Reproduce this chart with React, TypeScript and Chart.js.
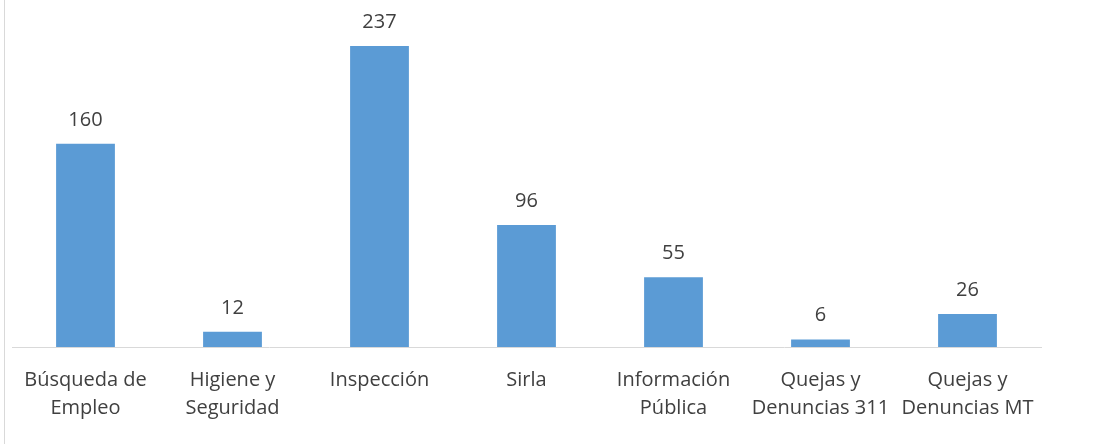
import React, { useEffect, useRef } from "react";
import { Chart, registerables } from "chart.js";

Chart.register(...registerables);

const categories: string[][] = [
  ["Búsqueda de", "Empleo"],
  ["Higiene y", "Seguridad"],
  ["Inspección"],
  ["Sirla"],
  ["Información", "Pública"],
  ["Quejas y", "Denuncias 311"],
  ["Quejas y", "Denuncias MT"],
];
const values: number[] = [160, 12, 237, 96, 55, 6, 26];
const yMax = 250;

const FONT = "'Open Sans', 'Liberation Sans', sans-serif";
const TEXT_COLOR = "#404040";

const valueLabels = {
  id: "valueLabels",
  afterDatasetsDraw(chart: any) {
    const ctx = chart.ctx;
    const meta = chart.getDatasetMeta(0);
    ctx.save();
    ctx.font = `20px ${FONT}`;
    ctx.fillStyle = TEXT_COLOR;
    ctx.textAlign = "center";
    ctx.textBaseline = "alphabetic";
    meta.data.forEach((bar: any, i: number) => {
      ctx.fillText(String(chart.data.datasets[0].data[i]), bar.x, bar.y - 18);
    });
    ctx.restore();
  },
};

const frameLine = {
  id: "frameLine",
  beforeDraw(chart: any) {
    const ctx = chart.ctx;
    ctx.save();
    ctx.strokeStyle = "#d9d9d9";
    ctx.lineWidth = 1;
    ctx.beginPath();
    ctx.moveTo(4.5, 0);
    ctx.lineTo(4.5, chart.height);
    ctx.stroke();
    ctx.restore();
  },
};

export default function App() {
  const ref = useRef<HTMLCanvasElement | null>(null);
  useEffect(() => {
    document.body.style.margin = "0";
    const canvas = ref.current!;
    const chart = new Chart(canvas, {
      type: "bar",
      data: {
        labels: categories,
        datasets: [
          {
            data: values,
            backgroundColor: "#5b9bd5",
            borderWidth: 0,
            barPercentage: 0.4,
            categoryPercentage: 1,
          },
        ],
      },
      options: {
        animation: false,
        responsive: false,
        maintainAspectRatio: false,
        layout: { padding: { left: 12, right: 52, top: 29.5, bottom: 0 } },
        plugins: { legend: { display: false }, tooltip: { enabled: false } },
        scales: {
          x: {
            grid: { display: false, drawTicks: false },
            border: { display: true, color: "#d9d9d9", width: 1 },
            ticks: {
              color: TEXT_COLOR,
              font: { family: FONT, size: 20, lineHeight: 1.4 },
              padding: 19,
              maxRotation: 0,
              autoSkip: false,
            },
            afterFit(scale: any) {
              scale.height = 97;
            },
          },
          y: {
            display: false,
            min: 0,
            max: yMax,
          },
        },
      },
      plugins: [valueLabels, frameLine],
    });
    return () => chart.destroy();
  }, []);
  return <canvas ref={ref} width={1093} height={444} style={{ display: "block" }} />;
}
